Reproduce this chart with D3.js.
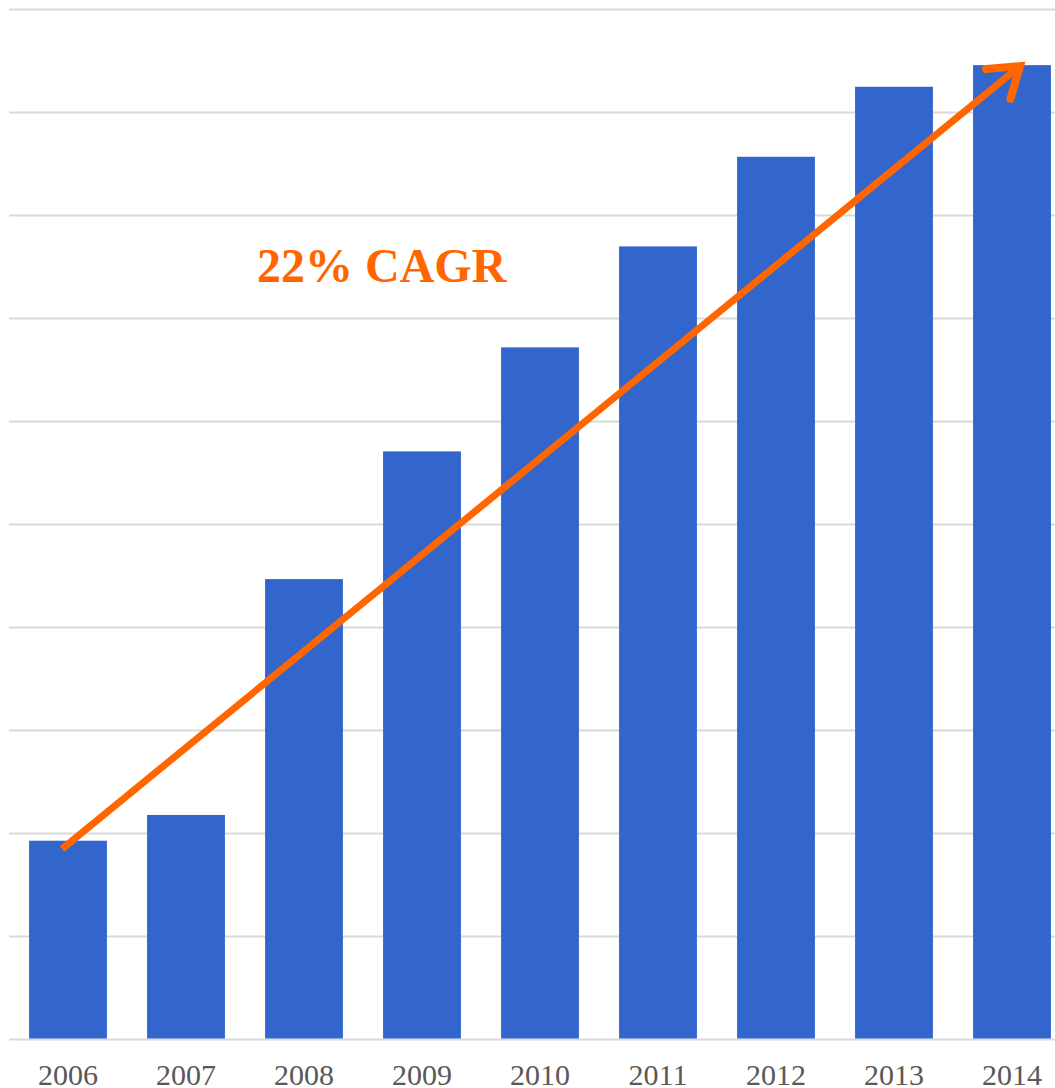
<!DOCTYPE html>
<html>
<head>
<meta charset="utf-8">
<script src="https://cdn.jsdelivr.net/npm/d3@7"></script>
<style>
  body { margin: 0; background: #fff; }
</style>
</head>
<body>
<script>
// data (grid units, 10 gridlines)
var years = ["2006", "2007", "2008", "2009", "2010", "2011", "2012", "2013", "2014"];
var values = [1.93, 2.18, 4.47, 5.71, 6.72, 7.70, 8.57, 9.25, 9.46];
var gridTicks = [0, 1, 2, 3, 4, 5, 6, 7, 8, 9, 10];
var trendLabel = "22% CAGR";
var trendFrom = { year: "2006", value: 1.85 };
var trendTo = { year: "2014", value: 9.45 };

var width = 1055;
var height = 1088;
var serif = "'Liberation Serif', 'Times New Roman', serif";

var svg = d3.select("body").append("svg")
  .attr("width", width)
  .attr("height", height);

var x = d3.scaleBand()
  .domain(years)
  .range([9, 1071])
  .paddingInner(0.34)
  .paddingOuter(0.17);

var y = d3.scaleLinear()
  .domain([0, 10])
  .range([1039.5, 9.5]);

// gridlines
svg.append("g")
  .selectAll("line")
  .data(gridTicks)
  .join("line")
  .attr("x1", 9)
  .attr("x2", width)
  .attr("y1", d => y(d))
  .attr("y2", d => y(d))
  .attr("stroke", "#d9d9d9")
  .attr("stroke-width", 2);

// bars
svg.append("g")
  .selectAll("rect")
  .data(values)
  .join("rect")
  .attr("x", (d, i) => x(years[i]))
  .attr("y", d => y(d))
  .attr("width", x.bandwidth())
  .attr("height", d => y(0) - y(d) - 1)
  .attr("fill", "#3366cc");

// year labels
var xAxis = d3.axisBottom(x).tickSize(0).tickPadding(0);
var gx = svg.append("g")
  .attr("transform", "translate(0," + 1064 + ")")
  .call(xAxis);
gx.select(".domain").remove();
gx.selectAll("text")
  .attr("dy", "0.71em")
  .attr("fill", "#595959")
  .style("font-family", serif)
  .style("font-size", "30px");

// trend arrow
var x0 = x(trendFrom.year) + x.bandwidth() / 2 - 6;
var y0 = y(trendFrom.value);
var x1 = x(trendTo.year) + x.bandwidth() / 2 + 8;
var y1 = y(trendTo.value);
var ang = Math.atan2(y1 - y0, x1 - x0);
var headLen = 34;
var spread = 0.6;
var arrow = svg.append("g")
  .attr("stroke", "#ff6600")
  .attr("stroke-width", 7)
  .attr("fill", "none");
arrow.append("line")
  .attr("x1", x0).attr("y1", y0)
  .attr("x2", x1 - 3 * Math.cos(ang)).attr("y2", y1 - 3 * Math.sin(ang));
arrow.append("path")
  .attr("stroke-width", 8)
  .attr("stroke-linecap", "round")
  .attr("stroke-linejoin", "miter")
  .attr("d", "M" + (x1 - headLen * Math.cos(ang - spread)) + "," + (y1 - headLen * Math.sin(ang - spread)) +
    "L" + x1 + "," + y1 +
    "L" + (x1 - headLen * Math.cos(ang + spread)) + "," + (y1 - headLen * Math.sin(ang + spread)));

svg.append("text")
  .attr("x", 257)
  .attr("y", 282)
  .attr("fill", "#ff6600")
  .style("font-family", serif)
  .style("font-weight", "bold")
  .style("font-size", "48px")
  .text(trendLabel);
</script>
</body>
</html>
